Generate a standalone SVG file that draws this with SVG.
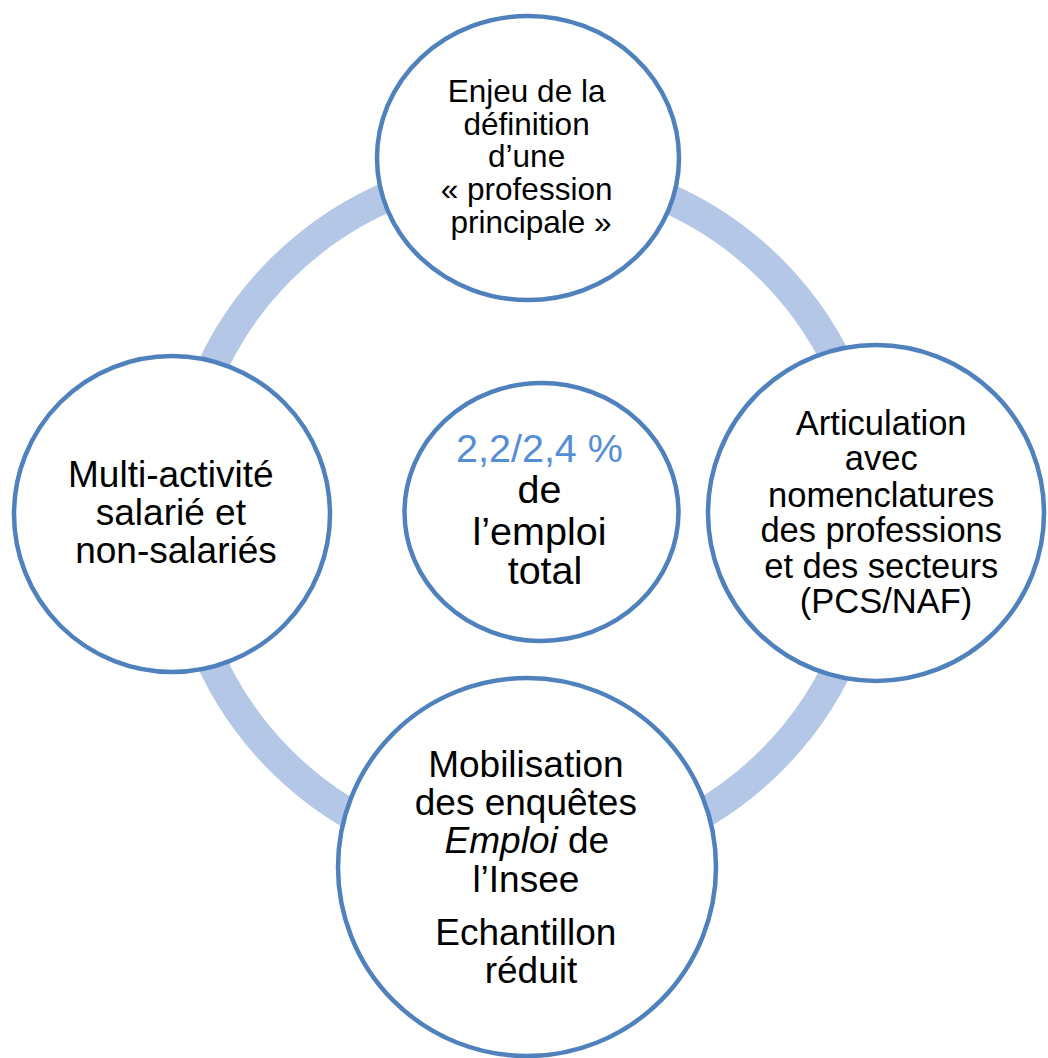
<svg xmlns="http://www.w3.org/2000/svg" width="1048" height="1058" viewBox="0 0 1048 1058">
  <style>
    .node { fill: #FFFFFF; stroke: #4F81BD; stroke-width: 4.5; }
    .ring { fill: none; stroke: #B4C7E7; stroke-width: 30; }
    .t { font-family: "Liberation Sans", Arial, sans-serif; fill: #000000; text-anchor: middle; }
    .hl { fill: #558ED5; }
  </style>
  <rect x="0" y="0" width="1048" height="1058" fill="#FFFFFF"/>
  <g id="connectors">
    <circle class="ring" cx="526" cy="515" r="347"/>
  </g>
  <g id="node-top">
    <ellipse class="node" cx="528" cy="158" rx="151" ry="142"/>
    <text class="t" font-size="31.5">
      <tspan x="531" y="102">Enjeu de la</tspan>
      <tspan x="531" y="135">définition</tspan>
      <tspan x="531" y="167">d’une</tspan>
      <tspan x="531" y="200">«&#160;profession</tspan>
      <tspan x="531" y="233">principale&#160;»</tspan>
    </text>
  </g>
  <g id="node-right">
    <circle class="node" cx="876" cy="513" r="168"/>
    <text class="t" font-size="34.5">
      <tspan x="886" y="435">Articulation</tspan>
      <tspan x="886" y="470">avec</tspan>
      <tspan x="886" y="507">nomenclatures</tspan>
      <tspan x="886" y="542">des professions</tspan>
      <tspan x="886" y="578">et des secteurs</tspan>
      <tspan x="886" y="613">(PCS/NAF)</tspan>
    </text>
  </g>
  <g id="node-bottom">
    <circle class="node" cx="527" cy="867" r="189"/>
    <text class="t" font-size="37">
      <tspan x="531" y="777">Mobilisation</tspan>
      <tspan x="531" y="815">des enquêtes</tspan>
      <tspan x="532" y="853"><tspan font-style="italic">Emploi</tspan> de</tspan>
      <tspan x="531" y="892">l’Insee</tspan>
      <tspan x="531" y="945">Echantillon</tspan>
      <tspan x="531" y="983">réduit</tspan>
    </text>
  </g>
  <g id="node-left">
    <circle class="node" cx="172" cy="514" r="158"/>
    <text class="t" font-size="37">
      <tspan x="176" y="487">Multi-activité</tspan>
      <tspan x="176" y="525">salarié et</tspan>
      <tspan x="176" y="563">non-salariés</tspan>
    </text>
  </g>
  <g id="node-center">
    <ellipse class="node" cx="541.5" cy="512" rx="137" ry="129"/>
    <text class="t" font-size="39.5">
      <tspan class="hl" x="545" y="462">2,2/2,4 %</tspan>
      <tspan x="545" y="503">de</tspan>
      <tspan x="545" y="545">l’emploi</tspan>
      <tspan x="545" y="584">total</tspan>
    </text>
  </g>
</svg>
